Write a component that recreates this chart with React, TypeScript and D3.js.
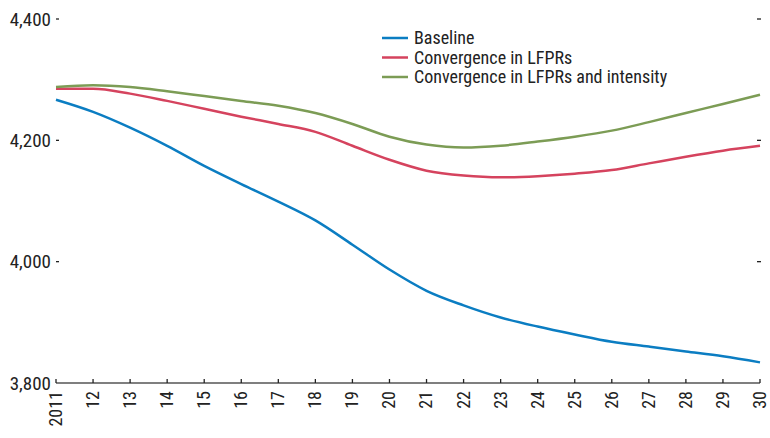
import React from "react";
import * as d3 from "d3";

const years = [2011, 2012, 2013, 2014, 2015, 2016, 2017, 2018, 2019, 2020, 2021, 2022, 2023, 2024, 2025, 2026, 2027, 2028, 2029, 2030];
const yearLabels = ["2011", "12", "13", "14", "15", "16", "17", "18", "19", "20", "21", "22", "23", "24", "25", "26", "27", "28", "29", "30"];

const baseline = [4267, 4247, 4221, 4191, 4158, 4128, 4099, 4068, 4028, 3987, 3952, 3928, 3908, 3893, 3880, 3868, 3860, 3852, 3844, 3834];
const convLfpr = [4285, 4285, 4277, 4265, 4252, 4239, 4227, 4214, 4191, 4168, 4150, 4142, 4139, 4141, 4145, 4151, 4162, 4173, 4183, 4191];
const convLfprIntensity = [4288, 4291, 4288, 4281, 4273, 4265, 4257, 4245, 4227, 4206, 4193, 4188, 4191, 4198, 4206, 4216, 4230, 4245, 4260, 4275];

const yTicks = [3800, 4000, 4200, 4400];

const seriesNames = ["Baseline", "Convergence in LFPRs", "Convergence in LFPRs and intensity"];
const seriesColors = ["#0b7dc2", "#d5435e", "#7c9c55"];

const font = "'Liberation Sans Narrow', 'Arial Narrow', 'Roboto Condensed', sans-serif";

const App = () => {
  const width = 770;
  const height = 438;
  const margin = { top: 19, right: 10, bottom: 55, left: 56 };

  const xScale = d3.scaleLinear().domain([2011, 2030]).range([margin.left, width - margin.right]);
  const yScale = d3.scaleLinear().domain([3800, 4400]).range([height - margin.bottom, margin.top]);

  const line = d3
    .line<number>()
    .x((_, i) => xScale(years[i]))
    .y((d) => yScale(d))
    .curve(d3.curveMonotoneX);

  const allSeries = [baseline, convLfpr, convLfprIntensity];
  const axisY = yScale(3800);

  return (
    <svg width={width} height={height} style={{ position: "absolute", left: 0, top: 0, fontFamily: font }}>
      {/* y labels, short dash ticks on both sides */}
      {yTicks.map((t) => (
        <g key={t}>
          <text x={51} y={yScale(t)} dy="0.35em" textAnchor="end" fontSize={19} fill="#222">
            {d3.format(",")(t)}
          </text>
          {t !== 3800 && (
            <line x1={56} x2={59} y1={yScale(t)} y2={yScale(t)} stroke="#222" strokeWidth={1.3} />
          )}
          {t !== 3800 && (
            <line x1={757} x2={761} y1={yScale(t)} y2={yScale(t)} stroke="#222" strokeWidth={1.3} />
          )}
        </g>
      ))}

      {/* x axis */}
      <line x1={xScale(2011)} x2={xScale(2030)} y1={axisY} y2={axisY} stroke="#555" strokeWidth={1.5} />
      {years.map((yr, i) => (
        <g key={yr}>
          <line x1={xScale(yr)} x2={xScale(yr)} y1={axisY} y2={axisY - 4} stroke="#222" strokeWidth={1.3} />
          <text
            transform={`translate(${xScale(yr)}, ${axisY + 8}) rotate(-90)`}
            textAnchor="end"
            dy="0.33em"
            fontSize={18}
            fill="#222"
          >
            {yearLabels[i]}
          </text>
        </g>
      ))}

      {/* series */}
      {allSeries.map((s, i) => (
        <path key={i} d={line(s) ?? ""} fill="none" stroke={seriesColors[i]} strokeWidth={2.5} />
      ))}

      {/* legend */}
      {seriesNames.map((n, i) => (
        <g key={n} transform={`translate(382, ${38 + i * 19.5})`}>
          <line x1={0} x2={26} y1={0} y2={0} stroke={seriesColors[i]} strokeWidth={2.5} />
          <text x={32} y={0} dy="0.35em" fontSize={18} fill="#222">
            {n}
          </text>
        </g>
      ))}
    </svg>
  );
};

export default App;
